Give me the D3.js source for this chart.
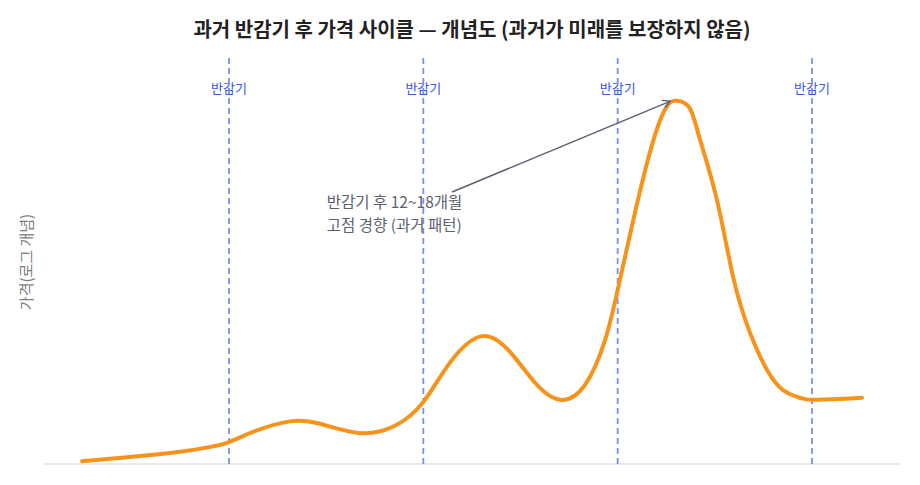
<!DOCTYPE html>
<html><head><meta charset="utf-8">
<script src="https://cdn.jsdelivr.net/npm/d3@7"></script>
<style>body{margin:0;background:#fff;font-family:"Noto Sans CJK KR","Noto Sans",sans-serif;}</style>
</head><body><svg id="c" width="920" height="485"></svg>
<script>
const titleText = "과거 반감기 후 가격 사이클 — 개념도 (과거가 미래를 보장하지 않음)";
const yLabel = "가격(로그 개념)";
const halvingT = [1, 2, 3, 4];
const halvingLabel = "반감기";
const timeT = [0.244,0.491,0.748,0.902,1.0,1.134,1.314,1.468,1.674,1.854,2.0,2.139,2.302,2.446,2.575,2.703,2.832,2.935,3.0,3.077,3.165,3.242,3.304,3.37,3.42,3.511,3.594,3.681,3.768,3.851,3.939,4.0,4.144,4.257];
const logPrice = [0.07,0.17,0.30,0.42,0.54,0.81,1.05,0.99,0.76,0.94,1.53,2.51,3.15,2.76,2.00,1.58,1.95,3.05,4.29,5.94,7.66,8.72,8.95,8.77,8.05,6.50,4.61,3.23,2.32,1.82,1.63,1.58,1.60,1.63];
const annoLines = ["반감기 후 12~18개월", "고점 경향 (과거 패턴)"];
const annoFrom = {t: 2.148, v: 6.70};
const annoTo = {t: 3.272, v: 8.94};
const annoTextAt = {t: 1.503, v: 6.30};

const svg = d3.select("#c");
const x = d3.scaleLinear().domain([1, 4]).range([229, 812]);
const y = d3.scaleLinear().domain([0, 10]).range([464, 58]);
const font = '"Noto Sans CJK KR","Noto Sans",sans-serif';

svg.append("defs").append("marker").attr("id","arr").attr("viewBox","0 0 10 10")
  .attr("refX",9).attr("refY",5).attr("markerWidth",7).attr("markerHeight",7).attr("orient","auto")
  .append("path").attr("d","M1,1 L9,5 L1,9").attr("fill","none").attr("stroke","#5b6170").attr("stroke-width",1.4);

svg.append("text").attr("x",472).attr("y",37).attr("text-anchor","middle")
  .attr("font-family",font).attr("font-size",20).attr("font-weight",700).attr("fill","#222").text(titleText);

svg.append("line").attr("x1",44).attr("x2",900).attr("y1",y(0)).attr("y2",y(0))
  .attr("stroke","#e2e2ec").attr("stroke-width",1.5);

svg.append("text").attr("transform",`translate(32,${262}) rotate(-90)`).attr("text-anchor","middle")
  .attr("font-family",font).attr("font-size",15).attr("fill","#7d7d7d").text(yLabel);

const hg = svg.append("g");
halvingT.forEach(t => {
  hg.append("text").attr("x",x(t)).attr("y",93).attr("text-anchor","middle")
    .attr("font-family",font).attr("font-size",13).attr("fill","#3558e0").text(halvingLabel);
  hg.append("line").attr("x1",x(t)).attr("x2",x(t)).attr("y1",y(10)).attr("y2",y(0))
    .attr("stroke","#7590ee").attr("stroke-width",1.8).attr("stroke-dasharray","6,4");
});

const data = timeT.map((t,i)=>({t, v: logPrice[i]}));
svg.append("path").datum(data)
  .attr("d", d3.line().x(d=>x(d.t)).y(d=>y(d.v)).curve(d3.curveNatural))
  .attr("fill","none").attr("stroke","#f7931a").attr("stroke-width",4).attr("stroke-linecap","round");

svg.append("line").attr("x1",x(annoFrom.t)).attr("y1",y(annoFrom.v)).attr("x2",x(annoTo.t)).attr("y2",y(annoTo.v))
  .attr("stroke","#5b6170").attr("stroke-width",1.4).attr("marker-end","url(#arr)");

annoLines.forEach((s,i)=>{
  svg.append("text").attr("x",x(annoTextAt.t)).attr("y",y(annoTextAt.v)+i*22.5)
    .attr("font-family",font).attr("font-size",15.5).attr("fill","#5b6170").text(s);
});
</script></body></html>
